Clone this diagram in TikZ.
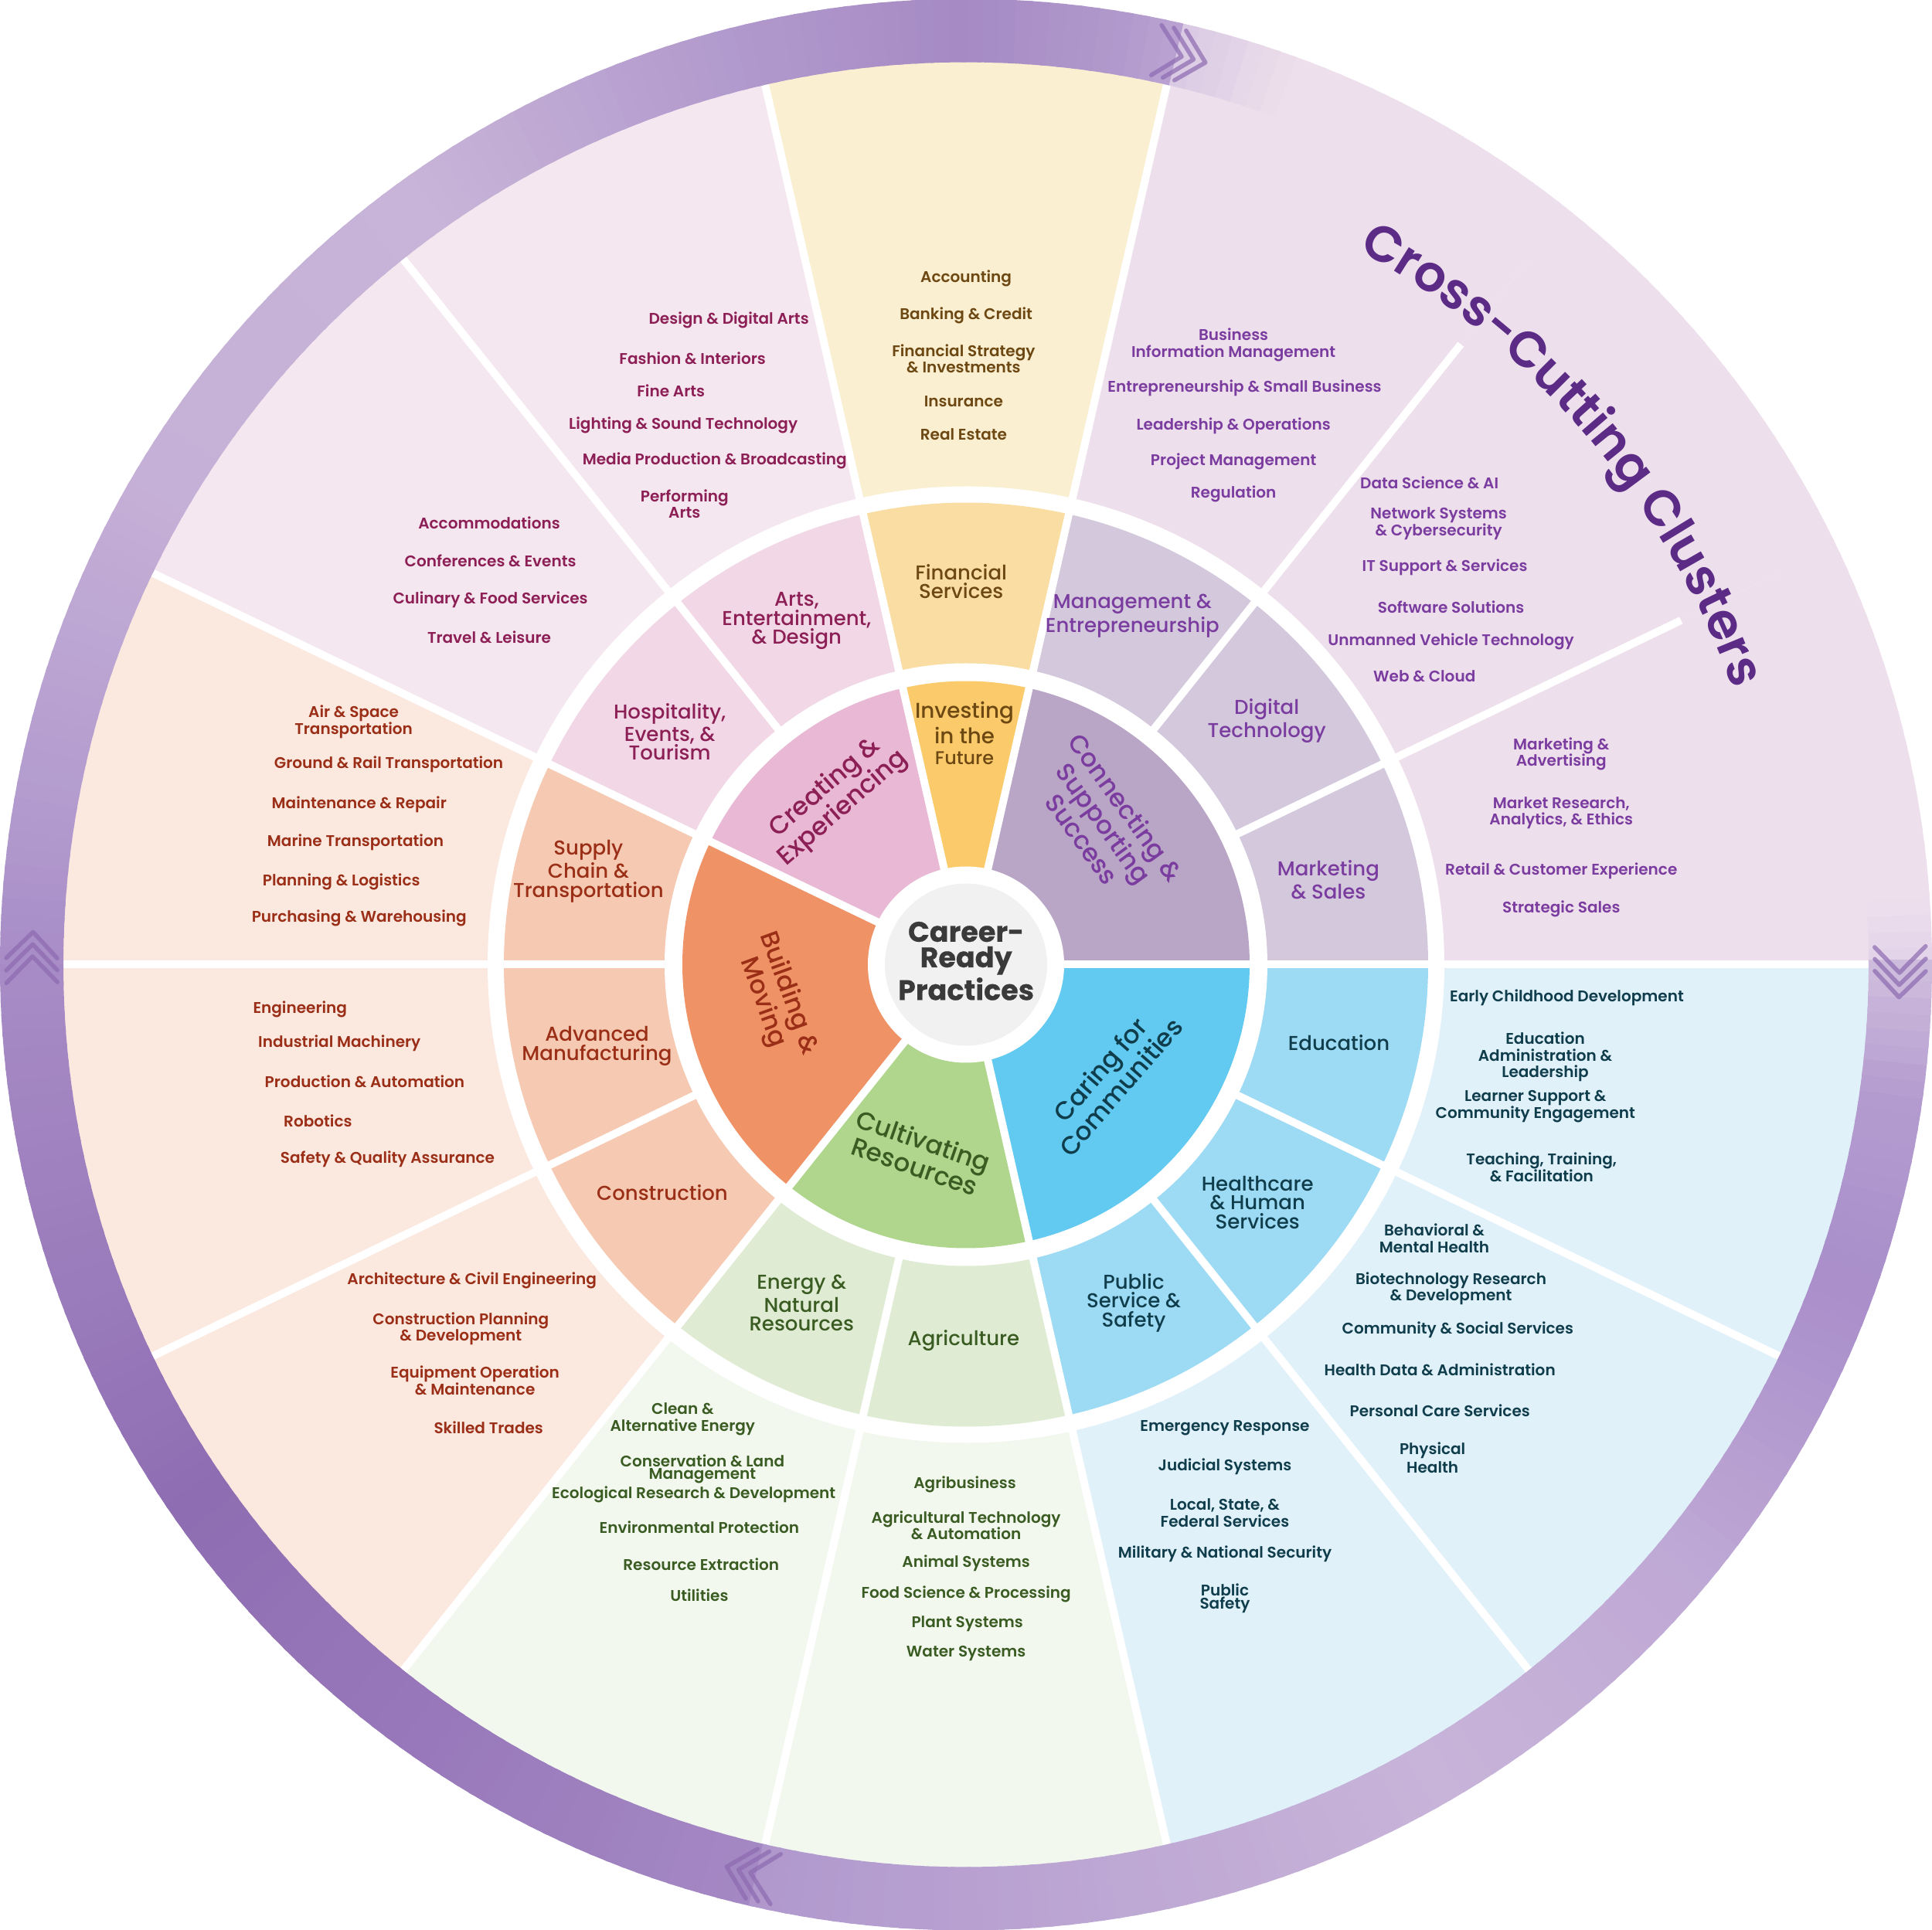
\documentclass[tikz,border=0pt]{standalone}
\usepackage{fontspec}
\setmainfont{Poppins}
\newfontfamily\popsemi{Poppins SemiBold}
\newfontfamily\popmed{Poppins Medium}
\newfontfamily\popbold{Poppins Bold}[FakeBold=0.4]
\usetikzlibrary{decorations.text}

% sector colours: outer ring, cluster ring, inner pie
\definecolor{oCon}{HTML}{EEDFEC}
\definecolor{oFin}{HTML}{FAEFD0}
\definecolor{oCre}{HTML}{F5E7EF}
\definecolor{oBui}{HTML}{FBE8DF}
\definecolor{oCul}{HTML}{F3F8EF}
\definecolor{oCar}{HTML}{E1F1FA}
\definecolor{mCon}{HTML}{D3C8DC}
\definecolor{mFin}{HTML}{FADDA2}
\definecolor{mCre}{HTML}{F2D8E7}
\definecolor{mBui}{HTML}{F6CAB2}
\definecolor{mCul}{HTML}{DFECD3}
\definecolor{mCar}{HTML}{9DDAF3}
\definecolor{iCon}{HTML}{B9A5C5}
\definecolor{iFin}{HTML}{FBCB6B}
\definecolor{iCre}{HTML}{E9B8D4}
\definecolor{iBui}{HTML}{EF9367}
\definecolor{iCul}{HTML}{AFD68C}
\definecolor{iCar}{HTML}{62CAF0}
% text colours
\definecolor{tCon}{HTML}{7B3CA0}
\definecolor{tFin}{HTML}{6D4813}
\definecolor{tCre}{HTML}{8C1F55}
\definecolor{tBui}{HTML}{9A2E17}
\definecolor{tCul}{HTML}{3A5C22}
\definecolor{tCar}{HTML}{0F3D4B}
\definecolor{tTitle}{HTML}{5B2B86}
\definecolor{tCore}{HTML}{3A3A3A}
\definecolor{coreGray}{HTML}{F1F1F1}
\definecolor{chevC}{HTML}{8C6AB0}
% band stops
\definecolor{bA}{HTML}{E3D3E8}
\definecolor{bL}{HTML}{EDDFEC}
\definecolor{bF}{HTML}{D9C8E3}
\definecolor{bC}{HTML}{BBA4D3}
\definecolor{bB}{HTML}{B29ACD}
\definecolor{bD}{HTML}{A58AC3}
\definecolor{bE}{HTML}{B29ACD}
\definecolor{bG}{HTML}{C8B4D8}
\definecolor{bH}{HTML}{C5B0D7}
\definecolor{bI}{HTML}{B39BCE}
\definecolor{bJ}{HTML}{A78CC6}
\definecolor{bK}{HTML}{9A7BBB}
\definecolor{bM}{HTML}{8F6DB2}
\definecolor{bN}{HTML}{9878BA}
\definecolor{bO}{HTML}{A488C4}
\definecolor{bP}{HTML}{B098CD}
\definecolor{bQ}{HTML}{BEA8D4}
\definecolor{bR}{HTML}{C8B4D9}
\definecolor{bS}{HTML}{BFA9D5}
\definecolor{bT}{HTML}{A98ECA}
\definecolor{bU}{HTML}{B49CCF}
\definecolor{bV}{HTML}{D0BEDE}

\newcommand\itemfnt{\popsemi\fontsize{5.7}{6.1}\selectfont}
\newcommand\tightfnt{\popsemi\fontsize{5.7}{4.7}\selectfont}
\newcommand\ringfnt{\popmed\fontsize{7.4}{7.0}\selectfont}
\newcommand\piefnt{\popmed\fontsize{9.3}{10}\selectfont}
\newcommand\corefnt{\popbold\fontsize{10.4}{9.4}\selectfont}
\newcommand\titlefnt{\popsemi\fontsize{18.5}{22}\selectfont}

\begin{document}
\begin{tikzpicture}
    \tikzstyle{sep}=[draw=white, line width=1mm]
    \tikzstyle{chev}=[draw=chevC, line width=0.55mm, line cap=round, line join=round, opacity=0.7]
    \tikzstyle{pathway}=[font=\itemfnt, align=center, inner sep=0pt]
    \tikzstyle{pathtight}=[pathway, font=\tightfnt]
    \tikzstyle{cluster}=[font=\ringfnt, align=center, inner sep=0pt]
    \tikzstyle{hub}=[font=\piefnt, align=center, inner sep=0pt]
    \tikzstyle{core}=[font=\corefnt, align=center, inner sep=0pt, text=tCore]

    \useasboundingbox (-12.5,-12.485) rectangle (12.5,12.485);

    % outer sectors
    \foreach \g [count=\k from 0] in {Con,Con,Con,Fin,Cre,Cre,Bui,Bui,Bui,Cul,Cul,Car,Car,Car}
    {
      \pgfmathsetmacro\ta{\k*360/14}
      \pgfmathsetmacro\tb{(\k+1)*360/14}
      \fill[fill=o\g] (0,0) -- (\ta:11.75) arc[start angle=\ta, end angle=\tb, radius=11.75] -- cycle;
    }
    \fill[white] (0,0) circle (6.19);

    % cluster ring
    \foreach \g [count=\k from 0] in {Con,Con,Con,Fin,Cre,Cre,Bui,Bui,Bui,Cul,Cul,Car,Car,Car}
    {
      \pgfmathsetmacro\ta{\k*360/14}
      \pgfmathsetmacro\tb{(\k+1)*360/14}
      \fill[fill=m\g] (0,0) -- (\ta:5.98) arc[start angle=\ta, end angle=\tb, radius=5.98] -- cycle;
    }
    \fill[white] (0,0) circle (3.9);

    % inner pie
    \foreach \ta/\tb/\g in {0/77.143/Con, 77.143/102.857/Fin, 102.857/154.286/Cre,
                            154.286/231.429/Bui, 231.429/282.857/Cul, 282.857/360/Car}
    \fill[fill=i\g] (0,0) -- (\ta:3.67) arc[start angle=\ta, end angle=\tb, radius=3.67] -- cycle;

    % white separators
    \foreach \k in {0,...,13}
    {
      \pgfmathsetmacro\ta{\k*360/14}
      \draw[sep] (\ta:3.8) -- (\ta:6.1);
    }
    \foreach \k in {0,3,4,5,6,7,8,9,10,11,12,13}
    {
      \pgfmathsetmacro\ta{\k*360/14}
      \draw[sep] (\ta:6.0) -- (\ta:11.75);
    }
    \foreach \k in {1,2}
    {
      \pgfmathsetmacro\ta{\k*360/14}
      \draw[sep] (\ta:6.0) -- (\ta:10.27);
    }
    \foreach \k in {0,3,4,6,9,11}
    {
      \pgfmathsetmacro\ta{\k*360/14}
      \draw[sep] (0,0) -- (\ta:3.8);
    }
    \fill[white] (0,0) circle (1.27);
    \fill[coreGray] (0,0) circle (1.05);

    % outer band, shaded in one degree steps
    \foreach \ta/\tb/\ca/\cb in {0/4/bA/bL, 4/70/bL/bL, 70/77/bL/bF, 77/80/bC/bB, 80/90/bB/bD,
        90/105/bD/bE, 105/125/bE/bG, 125/150/bG/bH, 150/170/bH/bI, 170/180/bI/bJ,
        180/200/bJ/bK, 200/215/bK/bM, 215/235/bM/bN, 235/257/bN/bO, 257/280/bP/bQ,
        280/300/bQ/bR, 300/320/bR/bS, 320/340/bS/bT, 340/352/bT/bU, 352/360/bU/bV}
    {
      \pgfmathtruncatemacro\bn{\tb-\ta}
      \foreach \i in {1,...,\bn}
      {
        \pgfmathsetmacro\bs{\ta+\i-1}
        \pgfmathsetmacro\be{\ta+\i+0.3}
        \pgfmathsetmacro\bp{100*(\i-0.5)/\bn}
        \colorlet{bandtmp}{\cb!\bp!\ca}
        \fill[bandtmp] (\bs:11.68) arc[start angle=\bs, end angle=\be, radius=11.68]
          -- (\be:12.5) arc[start angle=\be, end angle=\bs, radius=12.5] -- cycle;
      }
    }

    % chevrons on the band
    \foreach \ta in {77.14,0,-102.86,180}
    \foreach \j in {0,1,2}
    {
      \pgfmathsetmacro\cht{\ta-0.5-0.75*\j}
      \pgfmathsetmacro\chb{\cht+1.6}
      \draw[chev] (\chb:12.42) -- (\cht:12.08) -- (\chb:11.76);
    }

    % curved title
    \path[decorate, decoration={text along path, text align=center,
        text={|\titlefnt\color{tTitle}|Cross-Cutting Clusters}}]
      (66.5:10.55) arc[start angle=66.5, end angle=14.5, radius=10.55];

    % labels, placed in pixel units of the layout
    \begin{scope}[x=0.015944cm, y=-0.015944cm, shift={(-12.5cm,12.484cm)}]

    % centre
    \node[core] (core) at (784,780) {Career-\\Ready\\Practices};

    % inner pie labels
    \node[hub, text=tFin, font=\popmed\fontsize{7.9}{7.7}\selectfont] (invest) at (782.7,595)
      {Investing\\in the\\{\fontsize{6.8}{7.7}\selectfont Future}};
    \node[hub, text=tCre, rotate=41] (creating) at (677,648) {Creating \&\\Experiencing};
    \node[hub, text=tCon, rotate=-54] (connecting) at (896,668) {Connecting \&\\Supporting\\Success};
    \node[hub, text=tCar, rotate=49] (caring) at (901,875) {Caring for\\Communities};
    \node[hub, text=tCul, rotate=-19] (cultivating) at (746,936) {Cultivating\\Resources};
    \node[hub, text=tBui, rotate=-70] (building) at (629,810) {Building \&\\Moving};

    % cluster ring labels
    \foreach \x/\y/\c/\t [count=\i] in {
      780/472/tFin/{Financial\\Services},
      919/500/tCon/{Management \&\\Entrepreneurship},
      1028/585/tCon/{Digital\\Technology},
      1078/714/tCon/{Marketing\\\& Sales},
      1086.5/846.5/tCar/Education,
      1020.5/976/tCar/{Healthcare\\\& Human\\Services},
      920/1057.5/tCar/{Public\\Service \&\\Safety},
      782/1088/tCul/Agriculture,
      650.5/1057.5/tCul/{Energy \&\\Natural\\Resources},
      537.5/968/tBui/Construction,
      484.5/849/tBui/{Advanced\\Manufacturing},
      477.5/707/tBui/{Supply\\Chain \&\\Transportation},
      543.5/594/tCre/{Hospitality,\\Events, \&\\Tourism},
      646.5/504/tCre/{Arts,\\Entertainment,\\\& Design}}
    \node[cluster, text=\c] (cluster-\i) at (\x,\y) {\t};

    % finance pathways
    \foreach \x/\y/\t [count=\i] in {
      784/226/Accounting,
      784/256/Banking \& Credit,
      782/291/{Financial Strategy\\\& Investments},
      782/326/Insurance,
      782/352.5/Real Estate}
    \node[pathway, text=tFin] (fin-\i) at (\x,\y) {\t};

    % cross-cutting pathways
    \foreach \x/\y/\t [count=\i] in {
      1001/280/{Business\\Information Management},
      1010/315/Entrepreneurship \& Small Business,
      1001/345.5/Leadership \& Operations,
      1001/374.5/Project Management,
      1001/401/Regulation,
      1160/391.5/Data Science \& AI,
      1167.5/425/{Network Systems\\\& Cybersecurity},
      1172.5/460.5/IT Support \& Services,
      1177.5/493/Software Solutions,
      1177.5/521/Unmanned Vehicle Technology,
      1156/549/Web \& Cloud,
      1267/612/{Marketing \&\\Advertising},
      1267/660/{Market Research,\\Analytics, \& Ethics},
      1267/707/Retail \& Customer Experience,
      1267/738/Strategic Sales}
    \node[pathway, text=tCon] (con-\i) at (\x,\y) {\t};

    % caring pathways
    \foreach \x/\y/\t [count=\i] in {
      1271.5/810/Early Childhood Development,
      1254/858/{Education\\Administration \&\\Leadership},
      1246/898/{Learner Support \&\\Community Engagement},
      1251/947.5/{Teaching, Training,\\\& Facilitation},
      1164/1005/{Behavioral \&\\Mental Health},
      1177.5/1046/{Biotechnology Research\\\& Development},
      1183/1079.5/Community \& Social Services,
      1168.5/1112/Health Data \& Administration,
      1168.5/1145/Personal Care Services,
      994/1159/Emergency Response,
      994/1190.5/Judicial Systems,
      994/1228/{Local, State, \&\\Federal Services},
      994/1261.5/Military \& National Security}
    \node[pathway, text=tCar] (car-\i) at (\x,\y) {\t};
    \node[pathtight, text=tCar] (car-health) at (1162.5,1183) {Physical\\Health};
    \node[pathtight, text=tCar] (car-safety) at (994,1297.5) {Public\\Safety};

    % cultivating pathways
    \foreach \x/\y/\t [count=\i] in {
      783/1205/Agribusiness,
      784/1238/{Agricultural Technology\\\& Automation},
      784/1269/Animal Systems,
      784/1294/Food Science \& Processing,
      785/1318/Plant Systems,
      784/1342/Water Systems,
      554/1152/{Clean \&\\Alternative Energy},
      563/1213/Ecological Research \& Development,
      567.5/1239.5/Environmental Protection,
      569/1270/Resource Extraction,
      567.5/1294.5/Utilities}
    \node[pathway, text=tCul] (cul-\i) at (\x,\y) {\t};
    \node[pathtight, text=tCul] (cul-land) at (570,1192.5) {Conservation \& Land\\Management};

    % building pathways
    \foreach \x/\y/\t [count=\i] in {
      287/586/{Air \& Space\\Transportation},
      315.5/620.5/Ground \& Rail Transportation,
      291.5/653/Maintenance \& Repair,
      288.5/684/Marine Transportation,
      277/715.5/Planning \& Logistics,
      291.5/745/Purchasing \& Warehousing,
      243.5/819/Engineering,
      275.5/847/Industrial Machinery,
      296/878/Production \& Automation,
      258/910/Robotics,
      314.5/941/Safety \& Quality Assurance,
      383/1039.5/Architecture \& Civil Engineering,
      374/1078.5/{Construction Planning\\\& Development},
      385.5/1120.5/{Equipment Operation\\\& Maintenance},
      396.5/1158.5/Skilled Trades}
    \node[pathway, text=tBui] (bui-\i) at (\x,\y) {\t};

    % creating pathways
    \foreach \x/\y/\t [count=\i] in {
      591.5/260/Design \& Digital Arts,
      562/290.5/Fashion \& Interiors,
      544.5/317/Fine Arts,
      554.5/345/Lighting \& Sound Technology,
      580/374/Media Production \& Broadcasting,
      555.5/409/{Performing\\Arts},
      397/424.5/Accommodations,
      398/455/Conferences \& Events,
      398/486.5/Culinary \& Food Services,
      397/517.5/Travel \& Leisure}
    \node[pathway, text=tCre] (cre-\i) at (\x,\y) {\t};

    \end{scope}
\end{tikzpicture}
\end{document}
